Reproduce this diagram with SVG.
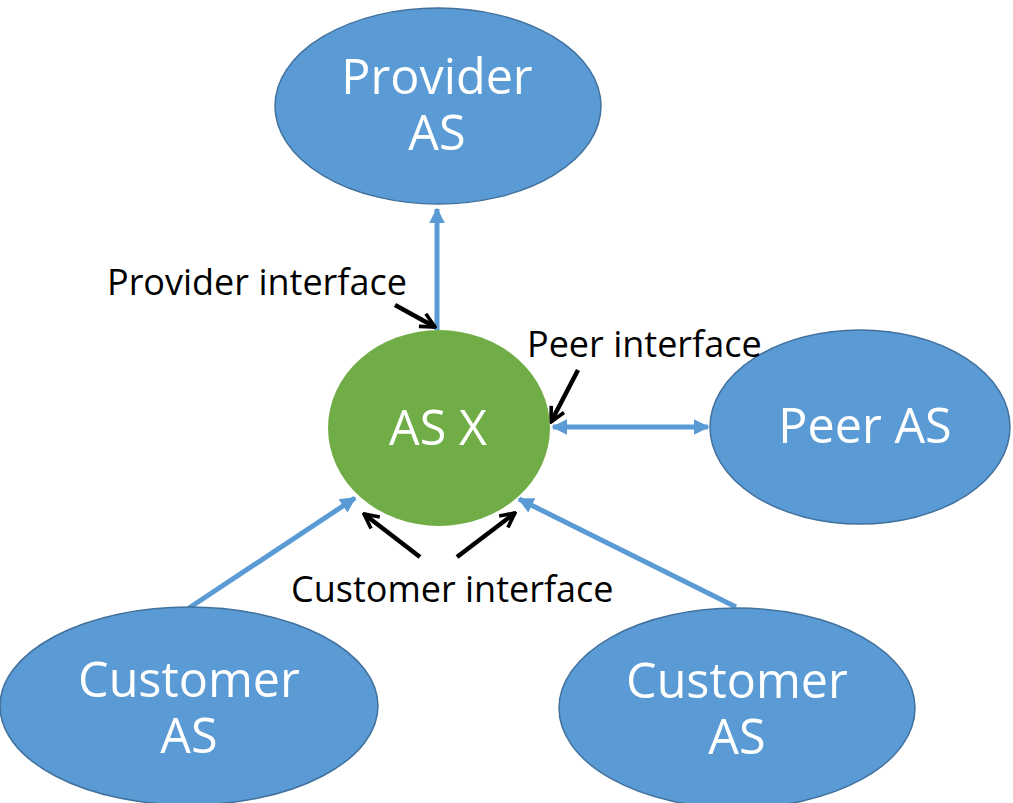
<svg xmlns="http://www.w3.org/2000/svg" width="1013" height="803" viewBox="0 0 1013 803">
<style>
.blue{fill:#5B9BD5;stroke:#41719C;stroke-width:1.5}
.green{fill:#70AD47}
.nt{font-family:"Open Sans","Noto Sans",sans-serif;font-size:48.5px;fill:#fff;text-anchor:middle}
.lb{font-family:"Open Sans","Noto Sans",sans-serif;font-size:36px;fill:#000}
.bl{stroke:#5B9BD5;stroke-width:5;fill:none}
.bk{stroke:#000;stroke-width:4.5;fill:none}
</style>
<defs>
<marker id="ba" viewBox="0 0 10 10" refX="9" refY="5" markerWidth="3.2" markerHeight="3.2" orient="auto-start-reverse" markerUnits="strokeWidth">
<path d="M0,0 L10,5 L0,10 z" fill="#5B9BD5"/>
</marker>
<marker id="ka" viewBox="0 0 10 10" refX="9" refY="5" markerWidth="4" markerHeight="4" orient="auto" markerUnits="strokeWidth">
<path d="M1,1 L9,5 L1,9" fill="none" stroke="#000" stroke-width="2"/>
</marker>
</defs>
<rect width="1013" height="803" fill="#fff"/>
<g id="connectors">
<line class="bl" x1="437" y1="330" x2="437" y2="209" marker-end="url(#ba)"/>
<line class="bl" x1="553" y1="427" x2="708" y2="427" marker-start="url(#ba)" marker-end="url(#ba)"/>
<line class="bl" x1="189" y1="608" x2="355" y2="498" marker-end="url(#ba)"/>
<line class="bl" x1="736" y1="607" x2="519" y2="499" marker-end="url(#ba)"/>
<line class="bk" x1="395" y1="305" x2="435" y2="327" marker-end="url(#ka)"/>
<line class="bk" x1="578" y1="370" x2="551" y2="422" marker-end="url(#ka)"/>
<line class="bk" x1="420" y1="557" x2="364" y2="514" marker-end="url(#ka)"/>
<line class="bk" x1="457" y1="557" x2="515" y2="513" marker-end="url(#ka)"/>
</g>
<g id="provider">
<ellipse class="blue" cx="438" cy="106" rx="163" ry="98"/>
<text class="nt" x="437" y="94">Provider<tspan x="437" dy="56">AS</tspan></text>
</g>
<g id="asx">
<ellipse class="green" cx="439" cy="428" rx="111" ry="98"/>
<text class="nt" x="438" y="445">AS X</text>
</g>
<g id="peer">
<ellipse class="blue" cx="860" cy="427" rx="150" ry="97"/>
<text class="nt" x="865" y="443">Peer AS</text>
</g>
<g id="customer-left">
<ellipse class="blue" cx="189" cy="706" rx="189" ry="99"/>
<text class="nt" x="189" y="697">Customer<tspan x="189" dy="56">AS</tspan></text>
</g>
<g id="customer-right">
<ellipse class="blue" cx="737" cy="708" rx="178" ry="100"/>
<text class="nt" x="737" y="698">Customer<tspan x="737" dy="56">AS</tspan></text>
</g>
<g id="labels">
<text class="lb" x="107" y="295">Provider interface</text>
<text class="lb" x="527" y="357">Peer interface</text>
<text class="lb" x="291" y="602">Customer interface</text>
</g>
</svg>
